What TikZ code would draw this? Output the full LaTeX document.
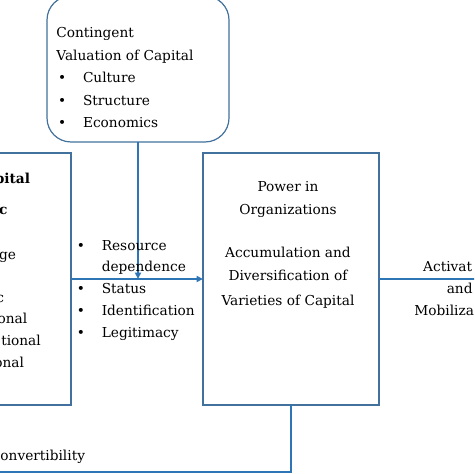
\documentclass[tikz,border=0pt]{standalone}
\usepackage{fontspec}
\setmainfont{DejaVu Serif}
\usetikzlibrary{arrows.meta}
\definecolor{cBox}{HTML}{41719C}
\definecolor{cLink}{HTML}{2E75B6}
\newcommand{\bul}[1]{\makebox[6.25mm][l]{\textbullet}#1}
\tikzset{
  box/.style ={draw=cBox,line width=0.85pt,fill=white,inner sep=0pt},
  txt/.style ={inner sep=0pt,anchor=base west},
  rgt/.style ={inner sep=0pt,anchor=base east},
  ctr/.style ={inner sep=0pt,anchor=base},
  lnk/.style ={draw=cLink,line width=1.4pt},
  arr/.style ={lnk,-{Triangle[length=1.6mm,width=1.5mm]}},
}

\begin{document}
\begin{tikzpicture}[x=1mm,y=1mm,font=\fontsize{9.75pt}{12pt}\selectfont,every node/.style={outer sep=0pt}]
\useasboundingbox (0,0) rectangle (118.5,-118.5);
\clip (0,0) rectangle (118.5,-118.5);

% boxes
\node[box,rounded corners=6mm,minimum width=45.5mm,minimum height=36.5mm] (val) at (34.5,-17.25) {};
\node[box,minimum width=57.75mm,minimum height=63mm] (cap) at (-11.125,-69.75) {};
\node[box,minimum width=44mm,minimum height=63mm] (org) at (72.75,-69.75) {};

\coordinate (out)  at (121,-69.75);
\coordinate (back) at (-3,-118);

% connectors
\draw[arr] (cap.east) -- (org.west);
\draw[arr] (val.south) -- (val.south |- cap.east);
\draw[lnk] (org.east) -- (out);
\draw[lnk] (org.south) |- (back);

% contingent valuation
\foreach \n/\y/\t in {c1/-9.5/Contingent, c2/-15.125/Valuation of Capital}
  {\node[txt] (\n) at (14.1,\y) {\t};}
\foreach \n/\y/\t in {v1/-20.75/Culture, v2/-26.375/Structure, v3/-32.0/Economics}
  {\node[txt] (\n) at (14.5,\y) {\bul{\t}};}

% mechanisms
\foreach \n/\y/\t in {m1/-62.75/Resource, m3/-73.3/Status,
                      m4/-78.9/Identification, m5/-84.4/Legitimacy}
  {\node[txt] (\n) at (19.2,\y) {\bul{\t}};}
\node[txt] (m2) at (25.45,-67.9) {dependence};

% power in organizations
\foreach \n/\y/\t in {p1/-47.9/Power in, p2/-53.75/Organizations,
                      p3/-64.3/Accumulation and, p4/-70.2/Diversification of,
                      p5/-76.25/Varieties of Capital}
  {\node[ctr] (\n) at (72,\y) {\t};}

% left box (cut off)
\foreach \n/\x/\y/\t in {l1/7.5/-45.8/\textbf{pital}, l2/1.85/-53.75/\textbf{c},
                         l3/4.0/-64.75/ge, l4/1.0/-75.6/c, l5/6.8/-80.8/onal,
                         l6/10.2/-86.25/tional, l7/6.0/-91.8/onal}
  {\node[rgt] (\n) at (\x,\y) {\t};}

% right side and feedback (cut off)
\node[txt] (a1) at (105.8,-67.9) {Activat};
\node[txt] (a2) at (111.7,-73.3) {and};
\node[txt] (a3) at (103.6,-78.75) {Mobiliza};
\node[rgt] (cv) at (21.25,-115.2) {onvertibility};
\end{tikzpicture}
\end{document}
